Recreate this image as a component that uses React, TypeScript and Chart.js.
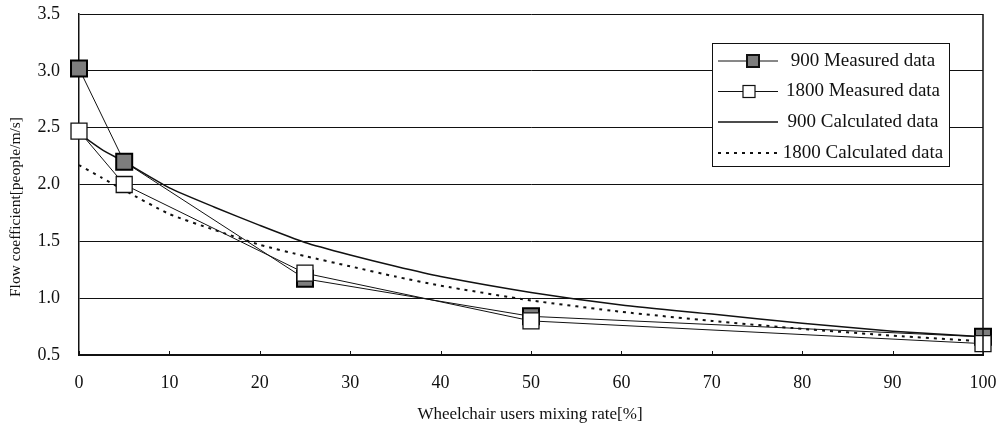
import React, { useEffect, useRef } from 'react';
import { Chart, registerables } from 'chart.js';

Chart.register(...registerables);

// ---- data ----
const measuredX = [0, 5, 25, 50, 100];
const measured900 = [3.02, 2.2, 1.17, 0.84, 0.66];
const measured1800 = [2.47, 2.0, 1.22, 0.8, 0.6];

const calcX = [0, 2.5, 5, 10, 15, 20, 25, 30, 35, 40, 50, 60, 70, 80, 90, 100];
const calc900 = [2.45, 2.31, 2.2, 1.97, 1.8, 1.64, 1.49, 1.38, 1.28, 1.19, 1.05, 0.94, 0.86, 0.78, 0.71, 0.66];
const calc1800 = [2.17, 2.06, 1.95, 1.74, 1.6, 1.47, 1.37, 1.28, 1.19, 1.11, 0.98, 0.88, 0.8, 0.73, 0.67, 0.62];

const xTicks = [0, 10, 20, 30, 40, 50, 60, 70, 80, 90, 100];
const yTicks = [0.5, 1.0, 1.5, 2.0, 2.5, 3.0, 3.5];

const seriesLabels = ['900 Measured data', '1800 Measured data', '900 Calculated data', '1800 Calculated data'];
const xTitle = 'Wheelchair users mixing rate[%]';
const yTitle = 'Flow coefficient[people/m/s]';

const FONT = '"Liberation Serif", "Times New Roman", serif';
const INK = '#111';
const GRAY = '#7d7d7d';

const toPoints = (xs: number[], ys: number[]) => xs.map((x, i) => ({ x, y: ys[i] }));

const decorPlugin = {
  id: 'decor',
  afterDatasetsDraw(chart: any) {
    const { ctx, chartArea } = chart;
    const xs = chart.scales.x;
    ctx.save();
    // right border
    ctx.strokeStyle = INK;
    ctx.lineWidth = 1.5;
    ctx.beginPath();
    ctx.moveTo(chartArea.right, chartArea.top);
    ctx.lineTo(chartArea.right, chartArea.bottom);
    ctx.stroke();
    // inside tick marks on the x axis
    ctx.lineWidth = 1;
    xTicks.forEach((t) => {
      const px = Math.round(xs.getPixelForValue(t)) + 0.5;
      ctx.beginPath();
      ctx.moveTo(px, chartArea.bottom);
      ctx.lineTo(px, chartArea.bottom - 4);
      ctx.stroke();
    });

    // legend
    const lx = 712, ly = 43, lw = 237, lh = 123;
    ctx.fillStyle = '#fff';
    ctx.fillRect(lx, ly, lw, lh);
    ctx.strokeStyle = INK;
    ctx.lineWidth = 1;
    ctx.strokeRect(lx + 0.5, ly + 0.5, lw, lh);
    const rows = [61, 91.5, 122, 153];
    const ds = chart.data.datasets;
    rows.forEach((ry, i) => {
      const d = ds[i];
      ctx.save();
      ctx.strokeStyle = INK;
      ctx.lineWidth = i === 2 ? 1.5 : i === 3 ? 2 : 1;
      ctx.setLineDash(i === 3 ? [3, 5] : []);
      ctx.beginPath();
      ctx.moveTo(718, ry);
      ctx.lineTo(778, ry);
      ctx.stroke();
      ctx.restore();
      if (i < 2) {
        const s = 12;
        const cx = i === 0 ? 753 : 749;
        ctx.fillStyle = d.backgroundColor;
        ctx.fillRect(cx - s / 2, ry - s / 2, s, s);
        ctx.strokeStyle = INK;
        ctx.lineWidth = i === 0 ? 2 : 1.2;
        ctx.strokeRect(cx - s / 2, ry - s / 2, s, s);
      }
      ctx.fillStyle = INK;
      ctx.font = `19px ${FONT}`;
      ctx.textAlign = 'center';
      ctx.textBaseline = 'middle';
      ctx.fillText(seriesLabels[i], 863, ry);
    });

    // axis titles
    ctx.fillStyle = INK;
    ctx.font = `17px ${FONT}`;
    ctx.textAlign = 'center';
    ctx.textBaseline = 'middle';
    ctx.fillText(xTitle, 530, 415);
    ctx.save();
    ctx.translate(16, 207);
    ctx.rotate(-Math.PI / 2);
    ctx.font = `15.5px ${FONT}`;
    ctx.fillText(yTitle, 0, 0);
    ctx.restore();
    ctx.restore();
  },
};

export default function App() {
  const ref = useRef<HTMLCanvasElement>(null);

  useEffect(() => {
    if (!ref.current) return;
    const chart = new Chart(ref.current, {
      type: 'line',
      data: {
        datasets: [
          {
            label: seriesLabels[0],
            data: toPoints(measuredX, measured900),
            borderColor: INK,
            borderWidth: 1,
            backgroundColor: GRAY,
            pointStyle: 'rect',
            pointRadius: 11.3,
            pointBorderWidth: 2,
            pointBorderColor: '#000',
            pointBackgroundColor: GRAY,
            tension: 0,
            clip: false,
            order: 1,
          },
          {
            label: seriesLabels[1],
            data: toPoints(measuredX, measured1800),
            borderColor: INK,
            borderWidth: 1,
            backgroundColor: '#fff',
            pointStyle: 'rect',
            pointRadius: 11.3,
            pointBorderWidth: 1.3,
            pointBorderColor: '#111',
            pointBackgroundColor: '#fff',
            tension: 0,
            clip: false,
            order: 0,
          },
          {
            label: seriesLabels[2],
            data: toPoints(calcX, calc900),
            borderColor: INK,
            borderWidth: 1.5,
            backgroundColor: INK,
            pointRadius: 0,
            tension: 0.2,
            order: 2,
          },
          {
            label: seriesLabels[3],
            data: toPoints(calcX, calc1800),
            borderColor: INK,
            borderWidth: 2,
            borderDash: [3, 5],
            backgroundColor: INK,
            pointRadius: 0,
            tension: 0.2,
            order: 3,
          },
        ],
      },
      options: {
        animation: false,
        responsive: false,
        devicePixelRatio: 1,
        layout: { padding: { top: 14, right: 14, left: 0, bottom: 0 } },
        plugins: {
          legend: { display: false },
          tooltip: { enabled: false },
        },
        scales: {
          x: {
            type: 'linear',
            min: 0,
            max: 100,
            afterBuildTicks: (scale: any) => {
              scale.ticks = xTicks.map((v) => ({ value: v }));
            },
            afterFit: (scale: any) => {
              scale.height = 75;
              scale.paddingLeft = 0;
              scale.paddingRight = 0;
            },
            grid: { display: false, drawTicks: false },
            border: { display: true, color: INK, width: 2 },
            ticks: {
              color: INK,
              font: { family: FONT, size: 18 },
              padding: 17,
              maxRotation: 0,
              autoSkip: false,
            },
          },
          y: {
            type: 'linear',
            min: 0.5,
            max: 3.5,
            afterBuildTicks: (scale: any) => {
              scale.ticks = yTicks.map((v) => ({ value: v }));
            },
            afterFit: (scale: any) => {
              scale.width = 79;
              scale.paddingTop = 0;
              scale.paddingBottom = 0;
            },
            grid: { color: INK, lineWidth: 1, drawTicks: false },
            border: { display: true, color: INK, width: 1.5 },
            ticks: {
              color: INK,
              font: { family: FONT, size: 18 },
              padding: 19,
              autoSkip: false,
              callback: (v: any) => Number(v).toFixed(1),
            },
          },
        },
      },
      plugins: [decorPlugin],
    } as any);
    return () => chart.destroy();
  }, []);

  return (
    <div style={{ position: 'absolute', left: 0, top: 0, width: 997, height: 430, background: '#fff' }}>
      <canvas ref={ref} width={997} height={430} style={{ display: 'block', width: 997, height: 430 }} />
    </div>
  );
}
